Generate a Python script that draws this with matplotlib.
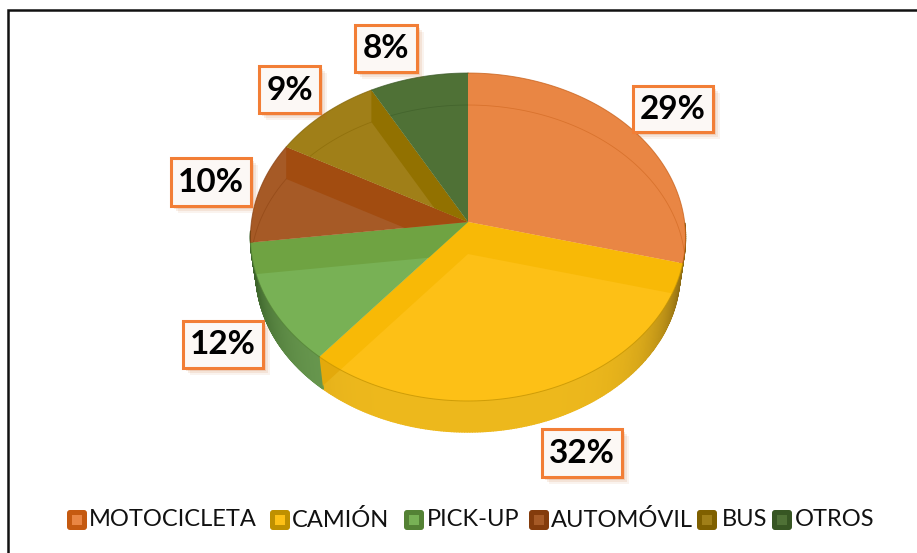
import numpy as np
import matplotlib
matplotlib.use("Agg")
import matplotlib.pyplot as plt
from matplotlib.patches import Polygon, Rectangle, FancyBboxPatch
from matplotlib.collections import PolyCollection

categories = ["MOTOCICLETA", "CAMIÓN", "PICK-UP", "AUTOMÓVIL", "BUS", "OTROS"]
values = [29, 32, 12, 10, 9, 8]
face_colors = ["#E98644", "#FDC016", "#78B155", "#A65A26", "#A07F18", "#4F7136"]
band_colors = ["#E98644", "#F8B906", "#6FA342", "#A24C10", "#927100", "#4F7136"]
dark_colors = ["#C55A11", "#BF9000", "#548235", "#843C0C", "#7F6000", "#375623"]
wall_colors = ["#C87434", "#EDB81C", "#6A9A50", "#843C0C", "#7F6000", "#375623"]

# cajas de etiquetas (x0, y0, x1, y1) en pixeles
label_boxes = [(633, 86, 713, 132), (542, 429, 622, 477), (183, 321, 263, 368),
               (171, 158, 251, 206), (259, 66, 320, 113), (355, 25, 417, 72)]
legend_swatch_x = [67, 270, 404, 529, 697, 772]
legend_text_x = [89, 292, 427, 551, 722, 795]

# parametros de la proyeccion
cx, cy = 468, 222
A, B, K = 216.6, 162.6, 0.0915
SHIFT = 32


def project(theta, scale=1.0, dy=0.0):
    # theta en grados, horario desde arriba
    t = np.radians(theta)
    w = 1 + K * np.cos(t)
    return cx + scale * A * np.sin(t) / w, cy + dy - scale * B * np.cos(t) / w


def sector(a, b, dy=0.0):
    t = np.linspace(a, b, 120)
    x, y = project(t, dy=dy)
    return np.vstack([[cx, cy + dy], np.column_stack([x, y])])


def edge_quad(theta):
    # banda oscura a lo largo de un borde radial
    x, y = project(theta)
    return [(cx, cy), (x, y), (x, y + SHIFT), (cx, cy + SHIFT)]


fig = plt.figure(figsize=(9.17, 5.53), dpi=100)
ax = fig.add_axes([0, 0, 1, 1])
ax.set_xlim(0, 917)
ax.set_ylim(553, 0)
ax.axis("off")

# marco
ax.plot([8, 8, 917], [553, 10, 10], color="#111111", lw=1.8, solid_joinstyle="miter")

bounds = np.concatenate([[0], np.cumsum(values)]) / np.sum(values) * 360


# pared lateral
def wall_strip(a, b, base, dark, n=200):
    t = np.linspace(a, b, n + 1)
    xt, yt = project(t)
    xb, yb = project(t, scale=0.975, dy=35.5)
    quads, cols = [], []
    base = np.array(matplotlib.colors.to_rgb(base))
    dark = np.array(matplotlib.colors.to_rgb(dark))
    for i in range(n):
        quads.append([(xt[i], yt[i]), (xt[i + 1], yt[i + 1]), (xb[i + 1], yb[i + 1]), (xb[i], yb[i])])
        m = 0.5 * (t[i] + t[i + 1])
        f = np.clip(abs(np.sin(np.radians(m))) ** 6, 0, 1)
        cols.append(base * (1 - f) + dark * f)
    ax.add_collection(PolyCollection(quads, facecolors=cols, edgecolors=cols, linewidths=1.0, zorder=2))
    outline = np.vstack([np.column_stack([xt, yt]), np.column_stack([xb, yb])[::-1]])
    return outline


wall_yellow = wall_strip(bounds[1] - 14, bounds[2], wall_colors[1], "#7A5C10")
wall_strip(bounds[2], bounds[3] + 4, wall_colors[2], "#3A6129")

# triangulo oscuro donde el corte del camion baja por la pared
wall_clip = Polygon(wall_yellow, closed=True, fc="none", ec="none", zorder=2)
ax.add_patch(wall_clip)
notch = Polygon(edge_quad(bounds[2]), closed=True, fc="#E3A90C", ec="none", zorder=2.5)
ax.add_patch(notch)
notch.set_clip_path(wall_clip)

# sectores
for i in range(len(values)):
    a, b = bounds[i], bounds[i + 1]
    base = Polygon(sector(a, b), closed=True, fc=face_colors[i], ec="none", zorder=3)
    ax.add_patch(base)
    for edge in (a, b):
        band = Polygon(edge_quad(edge), closed=True, fc=band_colors[i], ec="none", zorder=4)
        ax.add_patch(band)
        band.set_clip_path(base)
    # arco fino interior
    t = np.linspace(a, b, 120)
    x, y = project(t, dy=SHIFT)
    rim = ax.plot(x, y, color=dark_colors[i], lw=0.6, alpha=0.45, zorder=5)[0]
    rim.set_clip_path(base)
    x, y = project(t)
    ax.plot(x, y, color=dark_colors[i], lw=0.7, alpha=0.7, zorder=6)

# etiquetas
for val, box in zip(values, label_boxes):
    x0, y0, x1, y1 = box
    for off, alpha in [(7, 0.07), (5, 0.1), (3, 0.14)]:
        ax.add_patch(Rectangle((x0 + off, y0 + off), x1 - x0, y1 - y0, fc="#C55A11", ec="none",
                               alpha=alpha, zorder=7))
    ax.add_patch(Rectangle((x0, y0), x1 - x0, y1 - y0, fc="#FCF8F5", ec="#F27E36", lw=2.2, zorder=8))
    ax.text((x0 + x1) / 2, (y0 + y1) / 2 + 0.5, f"{val}%", ha="center", va="center",
            family="Lato", weight="bold", fontsize=24, color="black", zorder=9)

# leyenda
for i, name in enumerate(categories):
    sx = legend_swatch_x[i]
    ax.add_patch(FancyBboxPatch((sx, 510), 20, 20, boxstyle="round,pad=0,rounding_size=3",
                                fc=dark_colors[i], ec="none", zorder=3))
    ax.add_patch(Rectangle((sx + 5, 515), 10, 10, fc=face_colors[i], ec="none", zorder=4))
    ax.text(legend_text_x[i], 520, name, ha="left", va="center", family="Lato",
            fontsize=17, color="#111111", zorder=4)

fig.savefig("out.png", dpi=100)
